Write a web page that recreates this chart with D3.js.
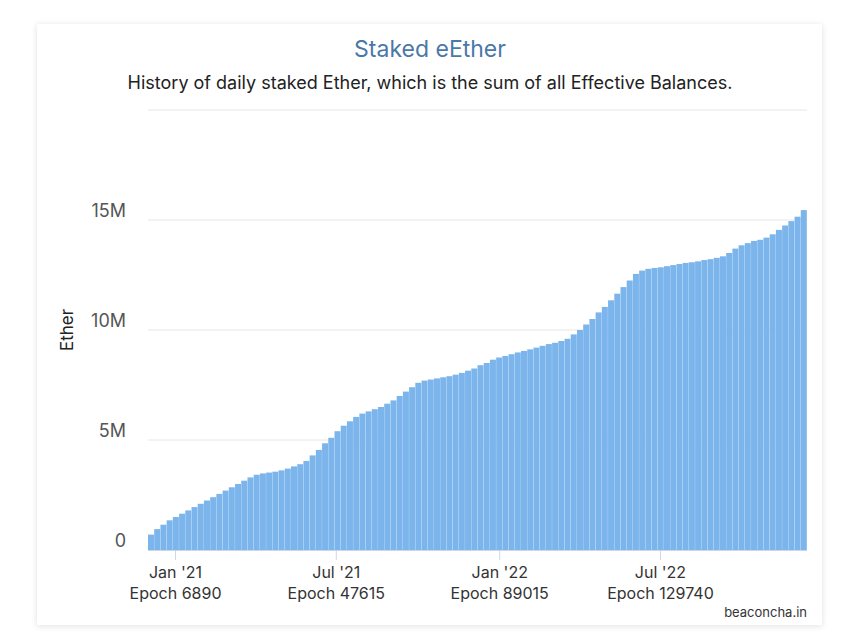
<!DOCTYPE html>
<html><head><meta charset="utf-8">
<script src="https://cdn.jsdelivr.net/npm/d3@7"></script>
<style>body{margin:0;background:#fff;font-family:Inter,"Noto Sans",sans-serif}</style>
</head><body>
<svg id="c" width="847" height="643"></svg>
<script>
const startDate = "2020-12-01"; // weekly samples from this date
const valuesM = [0.7,0.95,1.15,1.35,
 1.5,1.65,1.8,1.95,
 2.1,2.25,2.4,2.55,
 2.7,2.85,3.0,3.15,3.3,
 3.42,3.48,3.52,3.56,
 3.62,3.7,3.8,3.9,
 4.05,4.3,4.55,4.85,5.1,
 5.4,5.65,5.85,6.05,
 6.2,6.3,6.4,6.5,6.65,
 6.8,7.0,7.2,7.4,
 7.6,7.7,7.75,7.8,
 7.85,7.9,7.97,8.05,8.15,
 8.25,8.4,8.5,8.65,
 8.75,8.82,8.9,8.98,9.05,
 9.12,9.2,9.28,9.36,
 9.42,9.5,9.6,9.8,10.0,
 10.25,10.5,10.8,11.05,
 11.35,11.65,11.95,12.25,
 12.55,12.7,12.78,12.82,12.85,
 12.9,12.95,13.0,13.05,
 13.08,13.12,13.18,13.22,13.28,
 13.35,13.5,13.7,13.85,
 13.95,14.05,14.1,14.2,14.35,
 14.55,14.75,14.95,15.15,
 15.45];
const yTicks = [0,5e6,10e6,15e6,20e6];
const yTickLabels = ["0","5M","10M","15M",""];
const xTicks = ["2021-01-01","2021-07-01","2022-01-01","2022-07-01"];
const xTickLabels = [["Jan '21","Epoch 6890"],["Jul '21","Epoch 47615"],["Jan '22","Epoch 89015"],["Jul '22","Epoch 129740"]];

const svg = d3.select("#c");
const defs = svg.append("defs");
const f = defs.append("filter").attr("id","sh").attr("x","-5%").attr("y","-5%").attr("width","110%").attr("height","110%");
f.append("feDropShadow").attr("dx",0).attr("dy",1).attr("stdDeviation",3).attr("flood-color","#000").attr("flood-opacity",0.12);
svg.append("rect").attr("x",37).attr("y",24).attr("width",785).attr("height",601).attr("fill","#fff").attr("filter","url(#sh)");

const p = d3.timeParse("%Y-%m-%d");
const s = p(startDate);
const ds = valuesM.map((v,i)=>d3.timeDay.offset(s,7*i));
const values = valuesM.map(v=>v*1e6);
const x = d3.scaleTime().domain([s, d3.timeDay.offset(ds[ds.length-1],7)]).range([148,807]);
const y = d3.scaleLinear().domain([0,20e6]).range([550,110]);

svg.append("g").selectAll("line").data(yTicks).join("line")
  .attr("x1",148).attr("x2",807).attr("y1",d=>y(d)).attr("y2",d=>y(d)).attr("stroke","#e6e6e6");
svg.append("g").selectAll("text").data(yTicks).join("text")
  .attr("x",126).attr("y",d=>y(d)-3).attr("text-anchor","end").attr("font-size",18).attr("fill","#555")
  .text((d,i)=>yTickLabels[i]);

svg.append("g").selectAll("rect").data(ds).join("rect")
  .attr("x",d=>x(d)).attr("width",(d,i)=>x(d3.timeDay.offset(d,7))-x(d)-0.2)
  .attr("y",(d,i)=>y(values[i])).attr("height",(d,i)=>550-y(values[i])).attr("fill","#7cb5ec");

svg.append("line").attr("x1",148).attr("x2",807).attr("y1",550.5).attr("y2",550.5).attr("stroke","#ccd6eb");
const xt = svg.append("g").selectAll("g").data(xTicks).join("g").attr("transform",d=>`translate(${x(p(d))},0)`);
xt.append("line").attr("y1",550).attr("y2",560).attr("stroke","#ccd6eb");
xt.append("text").attr("y",578).attr("text-anchor","middle").attr("font-size",16).attr("fill","#333").text((d,i)=>xTickLabels[i][0]);
xt.append("text").attr("y",599).attr("text-anchor","middle").attr("font-size",16).attr("fill","#333").text((d,i)=>xTickLabels[i][1]);

svg.append("text").attr("transform","translate(73,330) rotate(-90)").attr("text-anchor","middle").attr("font-size",17).attr("fill","#222").text("Ether");
svg.append("text").attr("x",430).attr("y",57).attr("text-anchor","middle").attr("font-size",23).attr("fill","#4a78a8").text("Staked eEther");
svg.append("text").attr("x",430).attr("y",89).attr("text-anchor","middle").attr("font-size",18).attr("fill","#222").text("History of daily staked Ether, which is the sum of all Effective Balances.");
svg.append("text").attr("x",807).attr("y",617).attr("text-anchor","end").attr("font-size",13).attr("fill","#333").text("beaconcha.in");
</script></body></html>
